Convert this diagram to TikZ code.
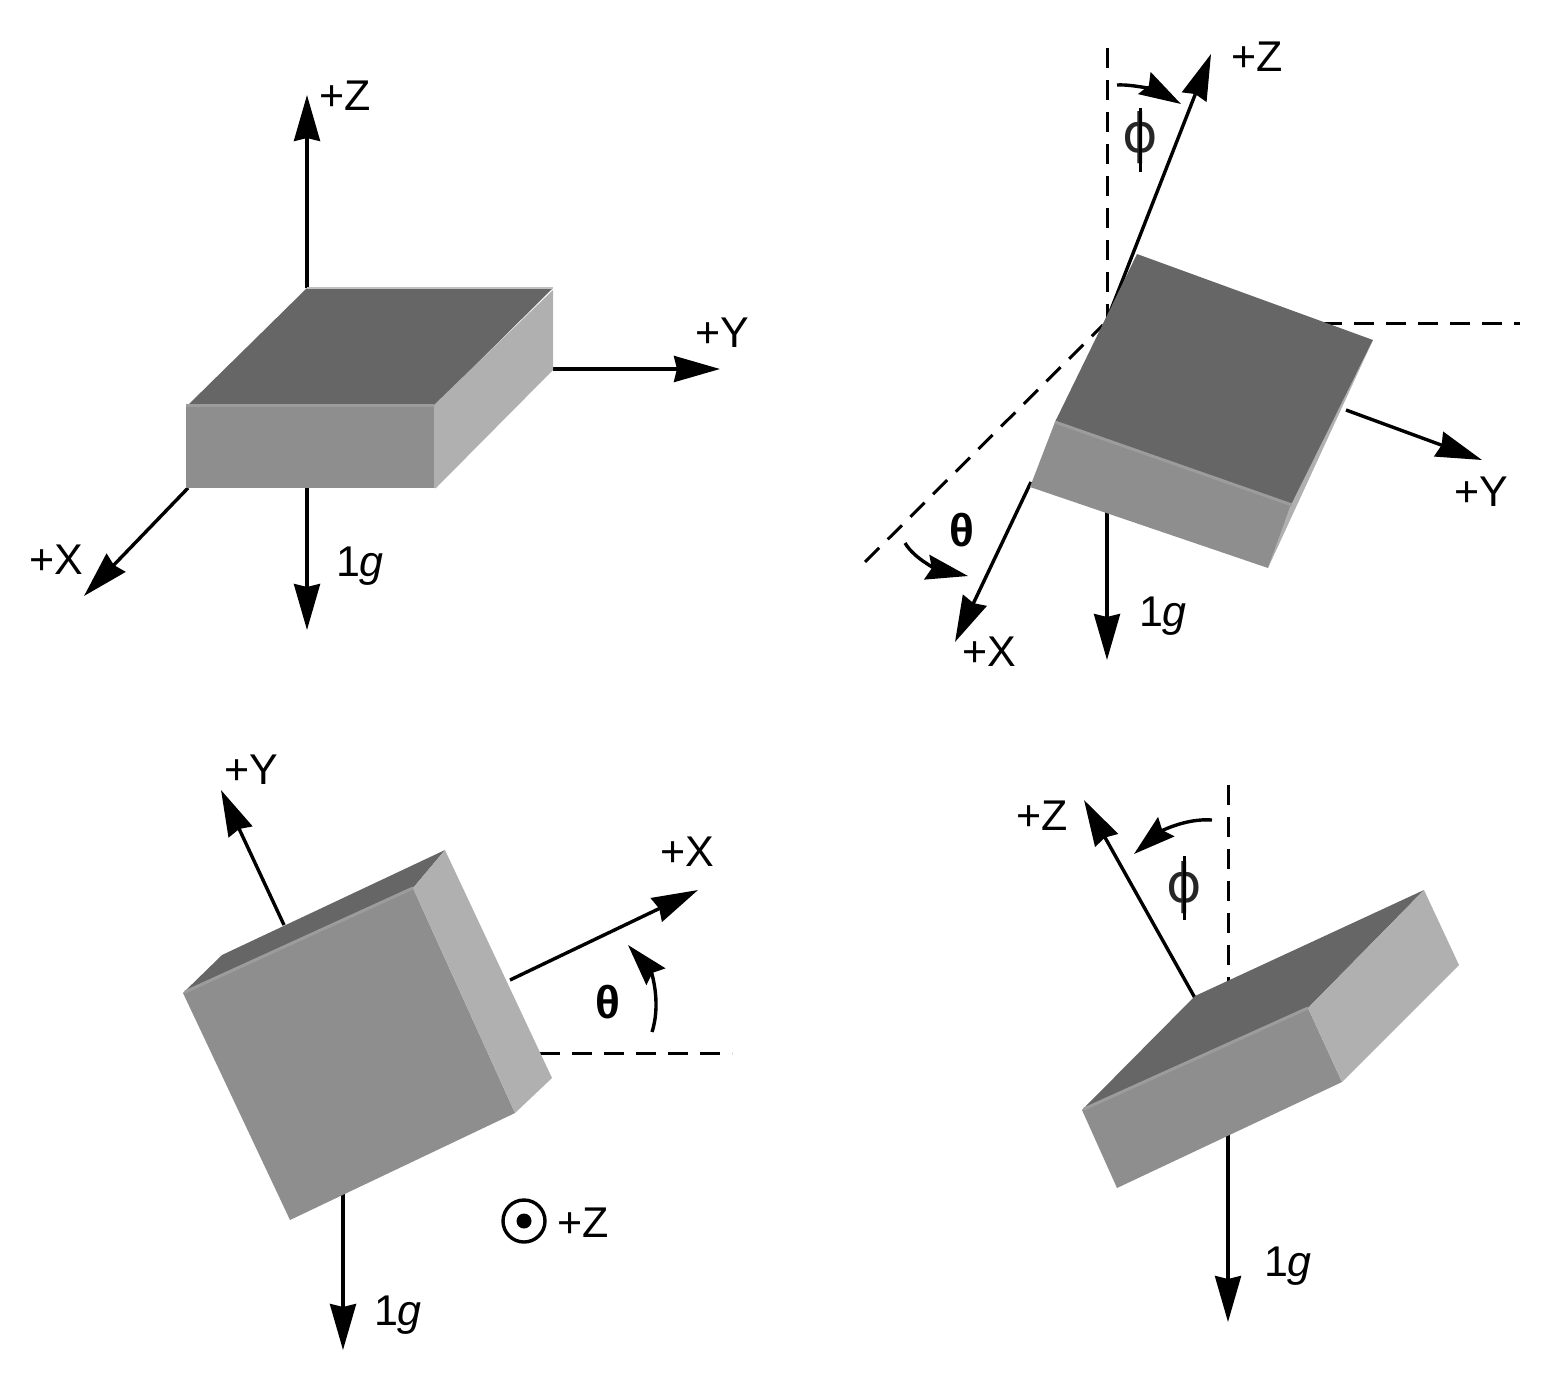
\documentclass[tikz,border=0pt]{standalone}
\usepackage{fontspec}
\setmainfont{Liberation Sans}
\newfontfamily\phifont{DejaVu Sans}
\usetikzlibrary{arrows.meta}
\definecolor{topc}{HTML}{666666}
\definecolor{frontc}{HTML}{8E8E8E}
\definecolor{sidec}{HTML}{B0B0B0}
\definecolor{edgec}{HTML}{9C9C9C}
\tikzset{
  lbl/.style={inner sep=0pt,outer sep=0pt,font=\fontsize{43}{43}\selectfont,text=black},
  philbl/.style={inner sep=0pt,outer sep=0pt,font=\phifont\fontsize{54}{54}\selectfont,text=black!85},
  phibar/.style={line width=3pt},
  thetalbl/.style={inner sep=0pt,outer sep=0pt,font=\bfseries\fontsize{46}{46}\selectfont},
  axis/.style={line width=3.4pt,-{Stealth[length=46pt,width=26pt,inset=3pt]}},
  turn/.style={line width=3.4pt,-{Stealth[length=42pt,width=25pt,inset=5pt]}},
  guide/.style={line width=3pt,dash pattern=on 20pt off 12pt},
  topface/.style={fill=topc},
  frontface/.style={fill=frontc},
  sideface/.style={fill=sidec},
  ridge/.style={draw=edgec,line width=3pt},
}
\newcommand{\oneg}{1\textit{g}}
\begin{document}
\begin{tikzpicture}[x=1pt,y=-1pt]
\useasboundingbox (0,0) rectangle (1565,1384);
% ---- panel 1
\coordinate (a0) at (307,288);
\coordinate (aZ) at (307,95);
\coordinate (aYs) at (553,369);
\coordinate (aY) at (720,369);
\coordinate (aXs) at (188,488);
\coordinate (aX) at (84,596);
\coordinate (aGs) at (307,486);
\coordinate (aG) at (307,630);
\draw[axis] (a0) -- (aZ);
\draw[axis] (aYs) -- (aY);
\draw[axis] (aXs) -- (aX);
\draw[axis] (aGs) -- (aG);
\fill[topface] (307,288) -- (553,288) -- (434,406) -- (187,406) -- cycle;
\fill[frontface] (186,405) -- (434,405) -- (434,488) -- (186,488) -- cycle;
\fill[sideface] (434,405) -- (553,290) -- (553,370) -- (436,488) -- (434,488) -- cycle;
\draw[ridge] (186,405.5) -- (434,405.5);
\draw[draw=sidec!80!white,line width=2pt] (307,288) -- (553,288);
\node[lbl] (aZl) at (345,96) {+Z};
\node[lbl] (aYl) at (722,333) {+Y};
\node[lbl] (aXl) at (56,560) {+X};
\node[lbl,anchor=base west] (aGl) at (336,576) {\oneg};
% ---- panel 2
\coordinate (b0) at (1105,325);
\coordinate (bZ) at (1211,54);
\coordinate (bXs) at (1031,482);
\coordinate (bX) at (955,642);
\coordinate (bYs) at (1346,410);
\coordinate (bY) at (1482,460);
\coordinate (bGs) at (1107,505);
\coordinate (bG) at (1107,660);
\coordinate (bV) at (1107,48);
\coordinate (bVe) at (1107,322);
\coordinate (bH) at (1520,323);
\coordinate (bHe) at (1322,323);
\coordinate (bD) at (865,562);
\coordinate (bDe) at (1103,325);
\draw[guide] (bV) -- (bVe);
\draw[guide] (bHe) -- (bH);
\draw[guide] (bD) -- (bDe);
\draw[axis] (b0) -- (bZ);
\draw[axis] (bXs) -- (bX);
\draw[axis] (bYs) -- (bY);
\draw[axis] (bGs) -- (bG);
\fill[topface] (1137,254) -- (1373,340) -- (1292,505) -- (1055,422) -- cycle;
\fill[frontface] (1055,422) -- (1292,505) -- (1268,568) -- (1030,487) -- cycle;
\fill[sideface] (1373,340) -- (1268,568) -- (1290,507) -- cycle;
\draw[ridge] (1055,422) -- (1292,505);
\coordinate (bPa) at (1117,85);
\coordinate (bPb) at (1181,104);
\draw[turn] (bPa) .. controls (1135,84) and (1160,92) .. (bPb);
\coordinate (bTa) at (905,543);
\coordinate (bTb) at (968,576);
\draw[turn] (bTa) .. controls (915,560) and (940,570) .. (bTb);
\node[lbl] (bZl) at (1257,57) {+Z};
\node[lbl] (bYl) at (1481,492) {+Y};
\node[lbl] (bXl) at (989,652) {+X};
\node[lbl,anchor=base west] (bGl) at (1139,626) {\oneg};
\node[philbl] (bPl) at (1140,138) {ϕ};
\coordinate (bPt) at (1140,108);
\coordinate (bPd) at (1140,172);
\draw[phibar] (bPt) -- (bPd);
\node[thetalbl] (bTl) at (962,530) {θ};
% ---- panel 3
\coordinate (cYs) at (284,925);
\coordinate (cY) at (221,790);
\coordinate (cXs) at (510,980);
\coordinate (cX) at (698,890);
\coordinate (cGs) at (343,1192);
\coordinate (cG) at (343,1350);
\coordinate (cH) at (732,1053);
\coordinate (cHe) at (540,1053);
\draw[guide] (cHe) -- (cH);
\draw[axis] (cYs) -- (cY);
\draw[axis] (cXs) -- (cX);
\draw[axis] (cGs) -- (cG);
\fill[topface] (183,993) -- (222,955) -- (445,850) -- (413,888) -- cycle;
\fill[frontface] (183,993) -- (413,888) -- (515,1113) -- (290,1220) -- cycle;
\fill[sideface] (413,888) -- (445,850) -- (552,1078) -- (515,1113) -- cycle;
\draw[ridge] (185,992) -- (413,888);
\coordinate (cTa) at (652,1032);
\coordinate (cTb) at (628,945);
\draw[turn] (cTa) .. controls (662,1000) and (650,970) .. (cTb);
\node[lbl] (cYl) at (251,770) {+Y};
\node[lbl] (cXl) at (687,852) {+X};
\node[lbl] (cZl) at (583,1223) {+Z};
\node[lbl,anchor=base west] (cGl) at (374,1325) {\oneg};
\node[thetalbl] (cTl) at (608,1002) {θ};
\node[circle,draw=black,line width=3.4pt,minimum size=42pt,inner sep=0pt] (cO) at (524,1221) {};
\node[circle,fill=black,minimum size=15pt,inner sep=0pt] (cOd) at (cO) {};
% ---- panel 4
\coordinate (dZs) at (1195,998);
\coordinate (dZ) at (1084,800);
\coordinate (dV) at (1228,785);
\coordinate (dVe) at (1228,990);
\coordinate (dGs) at (1228,1130);
\coordinate (dG) at (1228,1322);
\draw[guide] (dV) -- (dVe);
\draw[axis] (dZs) -- (dZ);
\draw[axis] (dGs) -- (dG);
\fill[topface] (1082,1110) -- (1195,996) -- (1424,890) -- (1308,1008) -- cycle;
\fill[frontface] (1082,1110) -- (1308,1008) -- (1342,1082) -- (1117,1188) -- cycle;
\fill[sideface] (1308,1008) -- (1424,890) -- (1459,965) -- (1342,1082) -- cycle;
\draw[ridge] (1084,1109) -- (1308,1008);
\coordinate (dPa) at (1212,820);
\coordinate (dPb) at (1134,854);
\draw[turn] (dPa) .. controls (1185,818) and (1160,832) .. (dPb);
\node[lbl] (dZl) at (1042,816) {+Z};
\node[lbl,anchor=base west] (dGl) at (1264,1276) {\oneg};
\node[philbl] (dPl) at (1184,888) {ϕ};
\coordinate (dPt) at (1184,856);
\coordinate (dPd) at (1184,920);
\draw[phibar] (dPt) -- (dPd);
\end{tikzpicture}
\end{document}
